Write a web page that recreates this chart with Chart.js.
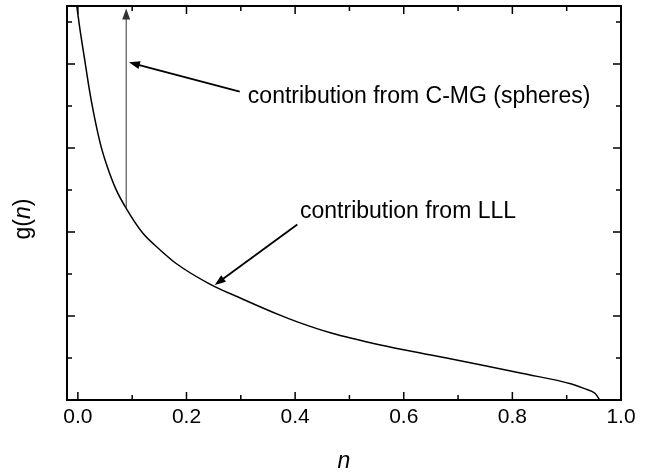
<!DOCTYPE html>
<html>
<head>
<meta charset="utf-8">
<script src="https://cdn.jsdelivr.net/npm/chart.js@4/dist/chart.umd.min.js"></script>
<style>
  html, body { margin: 0; padding: 0; background: #fff; }
</style>
</head>
<body>
<canvas id="gChart" width="659" height="472"></canvas>
<script>
  // g(n) curve, values
  const nValues = [-0.002, 0.003, 0.014, 0.020, 0.026, 0.034, 0.043, 0.054, 0.070, 0.089,
                   0.119, 0.150, 0.181, 0.243, 0.304, 0.372, 0.404, 0.465, 0.557, 0.650,
                   0.743, 0.817, 0.909, 0.933, 0.952, 0.961];
  const gValues = [4.69, 4.45, 3.99, 3.74, 3.52, 3.26, 3.01, 2.78, 2.51, 2.28,
                   1.99, 1.795, 1.625, 1.38, 1.20, 1.01, 0.93, 0.80, 0.655, 0.536,
                   0.417, 0.318, 0.19, 0.135, 0.08, 0.00];

  // axis ticks
  const xTickValues = [0.0, 0.2, 0.4, 0.6, 0.8, 1.0];
  const xMinorTicks = [0.1, 0.3, 0.5, 0.7, 0.9];
  const yMajorTicks = [0, 1, 2, 3, 4];
  const yMinorTicks = [0.5, 1.5, 2.5, 3.5, 4.5];

  // annotation anchors, in data units (n, g)
  const spikeArrow = { from: [0.089, 2.28], to: [0.089, 4.66] };
  const cmgArrow = { from: [0.298, 3.67], to: [0.094, 4.02] };
  const lllArrow = { from: [0.404, 2.09], to: [0.252, 1.37] };
  const cmgLabel = { text: 'contribution from C-MG (spheres)', at: [0.313, 3.61] };
  const lllLabel = { text: 'contribution from LLL', at: [0.409, 2.24] };

  const FONT = '"Liberation Sans", Arial, Helvetica, sans-serif';

  function drawArrow(ctx, x1, y1, x2, y2, width, color) {
    const ang = Math.atan2(y2 - y1, x2 - x1);
    const headLen = 11, headHalf = 4;
    ctx.strokeStyle = color;
    ctx.fillStyle = color;
    ctx.lineWidth = width;
    ctx.beginPath();
    ctx.moveTo(x1, y1);
    ctx.lineTo(x2 - Math.cos(ang) * headLen * 0.8, y2 - Math.sin(ang) * headLen * 0.8);
    ctx.stroke();
    ctx.beginPath();
    ctx.moveTo(x2, y2);
    ctx.lineTo(x2 - Math.cos(ang) * headLen - Math.sin(ang) * headHalf,
               y2 - Math.sin(ang) * headLen + Math.cos(ang) * headHalf);
    ctx.lineTo(x2 - Math.cos(ang) * headLen + Math.sin(ang) * headHalf,
               y2 - Math.sin(ang) * headLen - Math.cos(ang) * headHalf);
    ctx.closePath();
    ctx.fill();
  }

  const framePlugin = {
    id: 'frame',
    afterDatasetsDraw(chart) {
      const { ctx, chartArea: a, scales: { x, y } } = chart;
      ctx.save();

      // box round the plot
      ctx.strokeStyle = '#000';
      ctx.lineWidth = 2;
      ctx.strokeRect(a.left, a.top, a.right - a.left, a.bottom - a.top);

      // inward ticks on all four sides
      ctx.lineWidth = 1.5;
      ctx.beginPath();
      const xTick = (v, len) => {
        const px = x.getPixelForValue(v);
        ctx.moveTo(px, a.bottom); ctx.lineTo(px, a.bottom - len);
        ctx.moveTo(px, a.top); ctx.lineTo(px, a.top + len);
      };
      const yTick = (v, len) => {
        const py = y.getPixelForValue(v);
        ctx.moveTo(a.left, py); ctx.lineTo(a.left + len, py);
        ctx.moveTo(a.right, py); ctx.lineTo(a.right - len, py);
      };
      xTickValues.forEach(v => xTick(v, 8));
      xMinorTicks.forEach(v => xTick(v, 5));
      yMajorTicks.forEach(v => yTick(v, 8));
      yMinorTicks.forEach(v => yTick(v, 5));
      ctx.stroke();

      // arrows
      const P = p => [x.getPixelForValue(p[0]), y.getPixelForValue(p[1])];
      let f = P(spikeArrow.from), t = P(spikeArrow.to);
      drawArrow(ctx, f[0], f[1], t[0], t[1], 1, '#333');
      f = P(cmgArrow.from); t = P(cmgArrow.to);
      drawArrow(ctx, f[0], f[1], t[0], t[1], 1.8, '#000');
      f = P(lllArrow.from); t = P(lllArrow.to);
      drawArrow(ctx, f[0], f[1], t[0], t[1], 1.8, '#000');

      // labels
      ctx.fillStyle = '#000';
      ctx.font = '23px ' + FONT;
      ctx.textAlign = 'left';
      ctx.textBaseline = 'middle';
      [cmgLabel, lllLabel].forEach(l => {
        const p = P(l.at);
        ctx.fillText(l.text, p[0], p[1]);
      });

      // y axis title g(n), n in italic
      ctx.translate(a.left - 43, (a.top + a.bottom) / 2 + 16);
      ctx.rotate(-Math.PI / 2);
      const parts = [['g(', 'normal'], ['n', 'italic'], [')', 'normal']];
      let total = 0;
      parts.forEach(pt => { ctx.font = pt[1] + ' 23px ' + FONT; total += ctx.measureText(pt[0]).width; });
      let cx = -total / 2;
      parts.forEach(pt => {
        ctx.font = pt[1] + ' 23px ' + FONT;
        ctx.fillText(pt[0], cx, 0);
        cx += ctx.measureText(pt[0]).width;
      });
      ctx.restore();
    }
  };

  const ctx = document.getElementById('gChart').getContext('2d');
  new Chart(ctx, {
    type: 'line',
    data: {
      datasets: [{
        label: 'g(n)',
        data: nValues.map((n, i) => ({ x: n, y: gValues[i] })),
        borderColor: '#000',
        borderWidth: 1.5,
        pointRadius: 0,
        fill: false,
        cubicInterpolationMode: 'monotone',
      }],
    },
    options: {
      responsive: false,
      animation: false,
      devicePixelRatio: 1,
      layout: { padding: { top: 6, right: 38, left: 0, bottom: 0 } },
      plugins: { legend: { display: false }, tooltip: { enabled: false } },
      scales: {
        x: {
          type: 'linear',
          min: -0.02,
          max: 1.0,
          afterBuildTicks: s => { s.ticks = xTickValues.map(v => ({ value: v })); },
          afterFit: s => { s.height = 72; },
          grid: { display: false, drawTicks: false },
          border: { display: false },
          ticks: {
            color: '#000',
            font: { family: FONT, size: 21 },
            padding: 5,
            maxRotation: 0,
            autoSkip: false,
            callback: v => Number(v).toFixed(1),
          },
          title: {
            display: true,
            text: 'n',
            color: '#000',
            font: { family: FONT, size: 23, style: 'italic' },
            padding: { top: 0, bottom: -3 },
          },
        },
        y: {
          min: 0,
          max: 4.69,
          afterFit: s => { s.width = 67; },
          grid: { display: false, drawTicks: false },
          border: { display: false },
          ticks: { display: false },
        },
      },
    },
    plugins: [framePlugin],
  });
</script>
</body>
</html>
